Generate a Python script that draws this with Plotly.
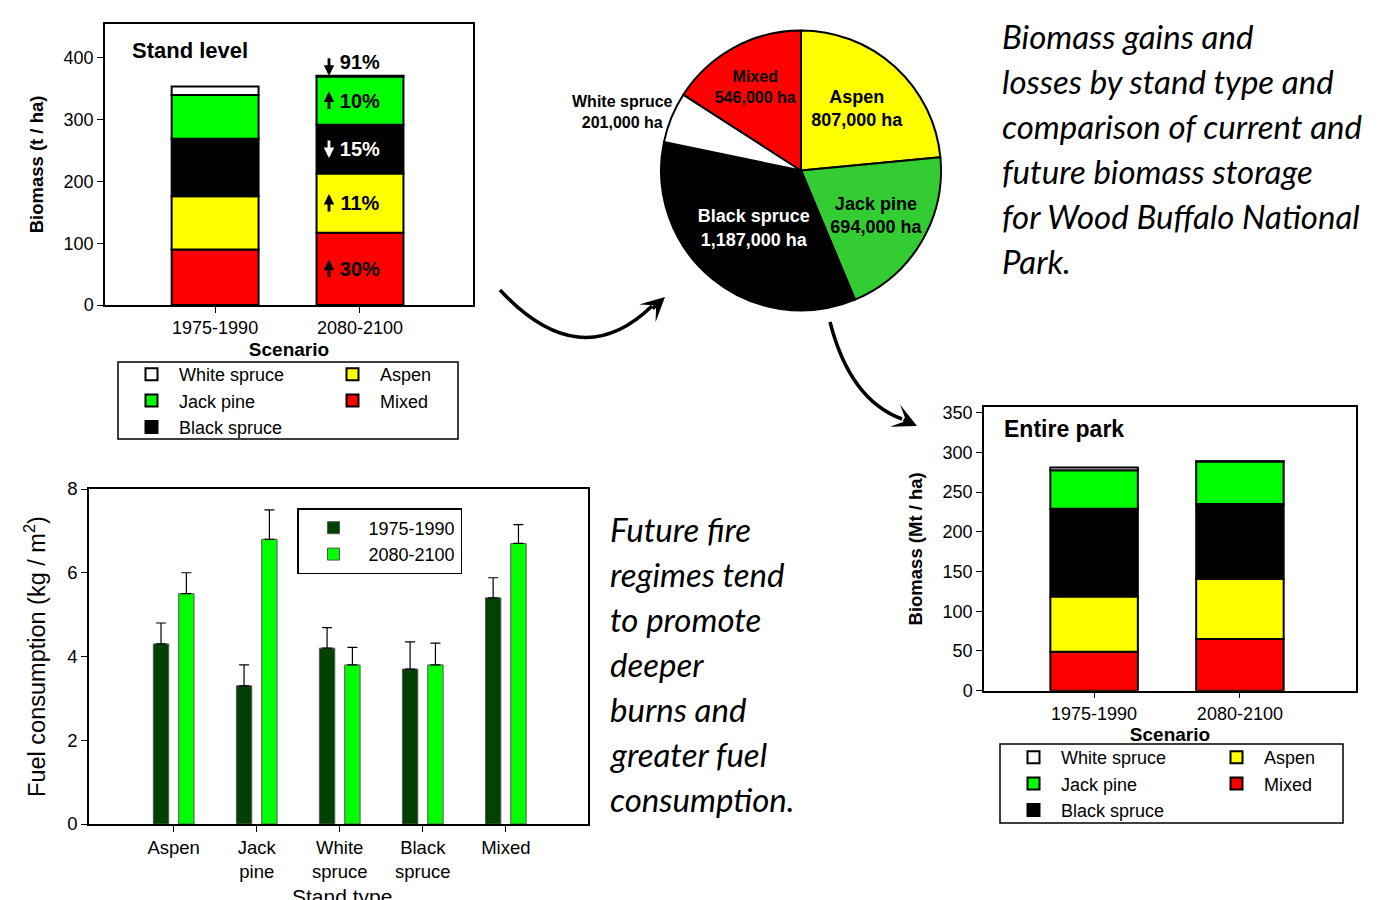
import plotly.graph_objects as go

# The page body adds an 8 px margin; the figure is sized to fill the rest of the window.
OX, OY = 8, 8
W, H = 1396 - OX, 900 - OY


def fx(x):
    return (x - OX) / W


def fy(y):
    return 1 - (y - OY) / H


FONT = "Liberation Sans, Arial, sans-serif"
TEXT_FONT = "Lato, Open Sans, sans-serif"

# ---------------- data ----------------
scenarios = ["1975-1990", "2080-2100"]
stack_types = ["Mixed", "Aspen", "Black spruce", "Jack pine", "White spruce"]  # bottom -> top
stack_colors = ["#FF0000", "#FFFF00", "#000000", "#00FF00", "#FFFFFF"]
legend_rank = [2, 1, 3, 2, 1]
legend_column = [2, 2, 1, 1, 1]

# Stand level biomass (t / ha)
stand_mixed = [90, 117]
stand_aspen = [86, 96]
stand_black = [93, 79]
stand_jack = [71, 78]
stand_white = [14, 1.3]
stand_change = ["30%", "11%", "15%", "10%", "91%"]
stand_change_dir = ["up", "up", "down", "up", "down"]
stand_change_color = ["black", "black", "white", "black", "black"]

# Entire park biomass (Mt)
park_mixed = [49, 65]
park_aspen = [69.5, 76]
park_black = [110.5, 94]
park_jack = [48.5, 53.5]
park_white = [3.5, 0.3]

# Area by stand type (pie)
pie_types = ["Aspen", "Jack pine", "Black spruce", "White spruce", "Mixed"]
pie_area_ha = [807000, 694000, 1187000, 201000, 546000]
pie_colors = ["#FFFF00", "#33CC33", "#000000", "#FFFFFF", "#FF0000"]
pie_text_colors = ["black", "black", "white", "black", "black"]

# Fuel consumption (kg / m2)
fuel_types = ["Aspen", "Jack<br>pine", "White<br>spruce", "Black<br>spruce", "Mixed"]
fuel_1975 = [4.3, 3.3, 4.2, 3.7, 5.4]
fuel_1975_err = [0.5, 0.5, 0.49, 0.65, 0.48]
fuel_2080 = [5.5, 6.8, 3.8, 3.8, 6.7]
fuel_2080_err = [0.5, 0.7, 0.42, 0.52, 0.45]

text_block_1 = ["Biomass gains and", "losses by stand type and", "comparison of current and",
                "future biomass storage", "for Wood Buffalo National", "Park."]
text_block_2 = ["Future fire", "regimes tend", "to promote", "deeper", "burns and",
                "greater fuel", "consumption."]

fig = go.Figure()
annotations = []


def add_stack(values_list, xa, ya, legends, changes=None):
    base = [0] * len(scenarios)
    for i, (name, vals, col) in enumerate(zip(stack_types, values_list, stack_colors)):
        kw = {}
        if changes is not None:
            outside = name == "White spruce"
            kw = dict(
                text=["", changes[i]],
                textposition=["none", "outside" if outside else "inside"],
                textangle=0,
                insidetextanchor="middle",
                insidetextfont=dict(family=FONT, size=20, color=stand_change_color[i], weight="bold"),
                outsidetextfont=dict(family=FONT, size=20, color="black", weight="bold"),
                cliponaxis=False,
            )
            # direction arrow next to the percentage label
            up = stand_change_dir[i] == "up"
            if outside:
                head_y = base[1] + vals[1]
                yshift = 0
            else:
                head_y = base[1] + vals[1] / 2
                yshift = 9 if up else -9
            annotations.append(dict(
                xref=xa, yref=ya, x=scenarios[1], y=head_y, xshift=-31, yshift=yshift,
                ax=0, ay=19 if up else -19, text="", showarrow=True, arrowhead=2,
                arrowsize=0.75, arrowwidth=2.8, arrowcolor=stand_change_color[i]))
        fig.add_trace(go.Bar(
            x=scenarios, y=vals, base=list(base), name=name,
            marker=dict(color=col, line=dict(color="black", width=2)),
            width=0.6, xaxis=xa, yaxis=ya,
            legend=legends[legend_column[i] - 1], legendrank=legend_rank[i],
            **kw,
        ))
        base = [b + v for b, v in zip(base, vals)]


add_stack([stand_mixed, stand_aspen, stand_black, stand_jack, stand_white], "x", "y",
          ["legend", "legend2"], stand_change)
add_stack([park_mixed, park_aspen, park_black, park_jack, park_white], "x2", "y2",
          ["legend3", "legend4"])

# pie
pie_text = [f"{t}<br>{a:,} ha" for t, a in zip(pie_types, pie_area_ha)]
fig.add_trace(go.Pie(
    values=pie_area_ha, labels=pie_types, text=pie_text, textinfo="text",
    textposition=["inside", "inside", "inside", "none", "inside"],
    insidetextorientation="horizontal",
    textfont=dict(family=FONT, size=18, color=pie_text_colors, weight="bold"),
    marker=dict(colors=pie_colors, line=dict(color="black", width=2)),
    sort=False, direction="clockwise", rotation=0, showlegend=False,
    domain=dict(x=[fx(661), fx(941)], y=[fy(311), fy(30)]),
))

# fuel consumption
fig.add_trace(go.Bar(
    x=fuel_types, y=fuel_1975, name="1975-1990", xaxis="x3", yaxis="y3",
    width=0.185, offset=-0.245,
    marker=dict(color="#004000", line=dict(color="#555555", width=1)),
    error_y=dict(type="data", array=fuel_1975_err, arrayminus=[0] * 5, symmetric=False,
                 color="black", thickness=1.2, width=5),
    legend="legend5",
))
fig.add_trace(go.Bar(
    x=fuel_types, y=fuel_2080, name="2080-2100", xaxis="x3", yaxis="y3",
    width=0.185, offset=0.06,
    marker=dict(color="#00FF00", line=dict(color="#555555", width=1)),
    error_y=dict(type="data", array=fuel_2080_err, arrayminus=[0] * 5, symmetric=False,
                 color="black", thickness=1.2, width=5),
    legend="legend5",
))

axis_common = dict(showline=True, mirror=True, linecolor="black", linewidth=1.5,
                   ticks="outside", ticklen=6, tickcolor="black", showgrid=False,
                   zeroline=False, automargin=False)

fig.update_layout(
    width=W, height=H, margin=dict(l=0, r=0, t=0, b=0, autoexpand=False),
    paper_bgcolor="white", plot_bgcolor="white",
    barmode="overlay",
    font=dict(family=FONT, color="black"),
    # stand level
    xaxis=dict(domain=[fx(105), fx(473)], anchor="y", type="category",
               categoryorder="array", categoryarray=scenarios, range=[-0.76, 1.78],
               tickfont=dict(size=18),
               title=dict(text="<b>Scenario</b>", font=dict(size=19), standoff=5), **axis_common),
    yaxis=dict(domain=[fy(305), fy(24)], anchor="x", range=[0, 455], dtick=100,
               tickfont=dict(size=18),
               title=dict(text="<b>Biomass (t / ha)</b>", font=dict(size=18.5)),
               **axis_common),
    # entire park
    xaxis2=dict(domain=[fx(984), fx(1356)], anchor="y2", type="category",
                categoryorder="array", categoryarray=scenarios, range=[-0.755, 1.796],
                tickfont=dict(size=18),
                title=dict(text="<b>Scenario</b>", font=dict(size=19), standoff=2), **axis_common),
    yaxis2=dict(domain=[fy(690.7), fy(407)], anchor="x2", range=[0, 357], dtick=50,
                tickfont=dict(size=18),
                title=dict(text="<b>Biomass (Mt / ha)</b>", font=dict(size=18.5)),
                **axis_common),
    # fuel consumption (its title sits at the cut-off bottom edge, drawn as an annotation below)
    xaxis3=dict(domain=[fx(89), fx(588)], anchor="y3", type="category",
                categoryorder="array", categoryarray=fuel_types, range=[-1.02, 4.99],
                tickfont=dict(size=18.5), **axis_common),
    yaxis3=dict(domain=[fy(824), fy(489)], anchor="x3", range=[0, 8], dtick=2,
                tickfont=dict(size=18.5),
                title=dict(text="Fuel consumption (kg / m<sup>2</sup>)", font=dict(size=23.5)),
                **axis_common),
)

leg_common = dict(font=dict(family=FONT, size=18, color="black"), bgcolor="rgba(0,0,0,0)",
                  borderwidth=0, itemwidth=45, xanchor="left", yanchor="top",
                  traceorder="normal", tracegroupgap=0, orientation="v")
fig.update_layout(
    legend=dict(x=fx(124), y=fy(356), **leg_common),
    legend2=dict(x=fx(325), y=fy(356), **leg_common),
    legend3=dict(x=fx(1006), y=fy(739), **leg_common),
    legend4=dict(x=fx(1209), y=fy(739), **leg_common),
    legend5=dict(x=fx(297), y=fy(508), font=dict(family=FONT, size=18, color="black"),
                 bgcolor="white", bordercolor="black", borderwidth=1.5, itemwidth=60,
                 xanchor="left", yanchor="top", traceorder="normal", orientation="v"),
)

shapes = [
    dict(type="rect", xref="paper", yref="paper", x0=fx(118), x1=fx(458), y0=fy(439), y1=fy(362),
         line=dict(color="black", width=1.5)),
    dict(type="rect", xref="paper", yref="paper", x0=fx(1000), x1=fx(1343), y0=fy(823), y1=fy(744),
         line=dict(color="black", width=1.5)),
    dict(type="path", xref="paper", yref="paper",
         path=f"M {fx(500)},{fy(290)} Q {fx(580)},{fy(376)} {fx(652)},{fy(306)}",
         line=dict(color="black", width=3.5)),
    dict(type="path", xref="paper", yref="paper",
         path=f"M {fx(830)},{fy(322)} Q {fx(850)},{fy(400)} {fx(902)},{fy(419)}",
         line=dict(color="black", width=3.5)),
]

annotations += [
    dict(text="<b>Stand level</b>", x=fx(130), y=fy(50), xanchor="left", yanchor="middle",
         font=dict(family=FONT, size=22)),
    dict(text="<b>Entire park</b>", x=fx(1002), y=fy(429), xanchor="left", yanchor="middle",
         font=dict(family=FONT, size=23)),
    dict(text="<b>White spruce<br>201,000 ha</b>", x=fx(622), y=fy(112), xanchor="center",
         yanchor="middle", font=dict(family=FONT, size=16)),
    dict(text="Stand type", x=fx(342), y=fy(883), xanchor="center", yanchor="top",
         font=dict(family=FONT, size=21)),
    dict(text="", x=fx(665), y=fy(297), ax=-14, ay=13, showarrow=True, arrowhead=3,
         arrowsize=1.15, arrowwidth=3.5, arrowcolor="black"),
    dict(text="", x=fx(917), y=fy(426), ax=-15, ay=-7, showarrow=True, arrowhead=3,
         arrowsize=1.15, arrowwidth=3.5, arrowcolor="black"),
]
for i, line in enumerate(text_block_1):
    annotations.append(dict(text=f"<i>{line}</i>", x=fx(1000), y=fy(36 + 45 * i), xanchor="left",
                            yanchor="middle", font=dict(family=TEXT_FONT, size=33)))
for i, line in enumerate(text_block_2):
    annotations.append(dict(text=f"<i>{line}</i>", x=fx(608), y=fy(529 + 45 * i), xanchor="left",
                            yanchor="middle", font=dict(family=TEXT_FONT, size=33)))
for a in annotations:
    a.setdefault("xref", "paper")
    a.setdefault("yref", "paper")
    a.setdefault("showarrow", False)

fig.update_layout(shapes=shapes, annotations=annotations)
fig.write_html("out.html")
